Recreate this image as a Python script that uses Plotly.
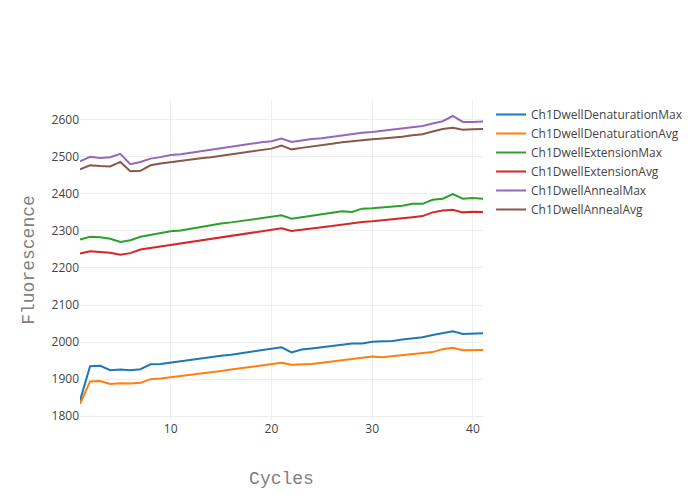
import plotly.graph_objects as go

cycles = list(range(1, 42))

denat_max = [1842, 1935, 1936, 1924, 1926, 1924, 1927, 1940, 1941, 1945,
             1948, 1952, 1955, 1959, 1963, 1966, 1970, 1974, 1978, 1982,
             1986, 1972, 1980, 1983, 1986, 1989, 1992, 1996, 1996, 2001,
             2002, 2003, 2007, 2010, 2013, 2019, 2025, 2029, 2022, 2022, 2024]
denat_avg = [1833, 1894, 1895, 1887, 1889, 1888, 1890, 1900, 1902, 1905,
             1908, 1912, 1915, 1919, 1922, 1926, 1930, 1933, 1937, 1941,
             1944, 1939, 1939, 1941, 1944, 1947, 1950, 1954, 1957, 1961,
             1959, 1962, 1964, 1968, 1970, 1973, 1981, 1985, 1978, 1979, 1979]
ext_max = [2277, 2284, 2283, 2279, 2270, 2275, 2284, 2289, 2295, 2299,
           2301, 2306, 2312, 2316, 2320, 2323, 2327, 2331, 2335, 2337,
           2342, 2333, 2338, 2341, 2345, 2348, 2353, 2351, 2360, 2361,
           2363, 2365, 2368, 2373, 2373, 2384, 2387, 2399, 2387, 2389, 2387]
ext_avg = [2239, 2245, 2243, 2241, 2236, 2240, 2250, 2254, 2258, 2262,
           2266, 2270, 2274, 2279, 2283, 2287, 2291, 2295, 2298, 2302,
           2307, 2300, 2304, 2306, 2310, 2313, 2317, 2322, 2324, 2326,
           2328, 2331, 2334, 2337, 2340, 2350, 2355, 2357, 2350, 2352, 2351]
anneal_max = [2488, 2500, 2497, 2499, 2508, 2480, 2486, 2495, 2499, 2505,
              2507, 2511, 2515, 2520, 2524, 2528, 2532, 2535, 2539, 2542,
              2549, 2540, 2544, 2548, 2550, 2554, 2559, 2561, 2565, 2567,
              2570, 2573, 2576, 2579, 2583, 2590, 2596, 2610, 2594, 2594, 2595]
anneal_avg = [2466, 2477, 2475, 2474, 2486, 2461, 2462, 2477, 2482, 2486,
              2488, 2492, 2496, 2499, 2503, 2506, 2510, 2514, 2517, 2522,
              2530, 2520, 2524, 2527, 2532, 2535, 2539, 2542, 2545, 2547,
              2549, 2551, 2554, 2558, 2561, 2568, 2575, 2578, 2573, 2574, 2575]

series = [
    ("Ch1DwellDenaturationMax", denat_max),
    ("Ch1DwellDenaturationAvg", denat_avg),
    ("Ch1DwellExtensionMax", ext_max),
    ("Ch1DwellExtensionAvg", ext_avg),
    ("Ch1DwellAnnealMax", anneal_max),
    ("Ch1DwellAnnealAvg", anneal_avg),
]

fig = go.Figure()
for name, vals in series:
    fig.add_trace(go.Scatter(x=cycles, y=vals, mode="lines", name=name))

title_font = dict(family="Courier New, monospace", size=18, color="#7f7f7f")
fig.update_layout(
    width=692, height=492,
    template="none",
    paper_bgcolor="white", plot_bgcolor="white",
    font=dict(family="Open Sans, verdana, arial, sans-serif", size=12, color="#444"),
    xaxis=dict(title=dict(text="Cycles", font=title_font), gridcolor="#eee",
               zeroline=False, showline=False, ticks="", automargin=False),
    yaxis=dict(title=dict(text="Fluorescence", font=title_font), gridcolor="#eee",
               zeroline=False, showline=False, ticks="", automargin=False),
    margin=dict(l=72, r=80, t=92, b=80),
    colorway=["#1f77b4", "#ff7f0e", "#2ca02c", "#d62728", "#9467bd", "#8c564b"],
)

fig.write_html("out.html")
